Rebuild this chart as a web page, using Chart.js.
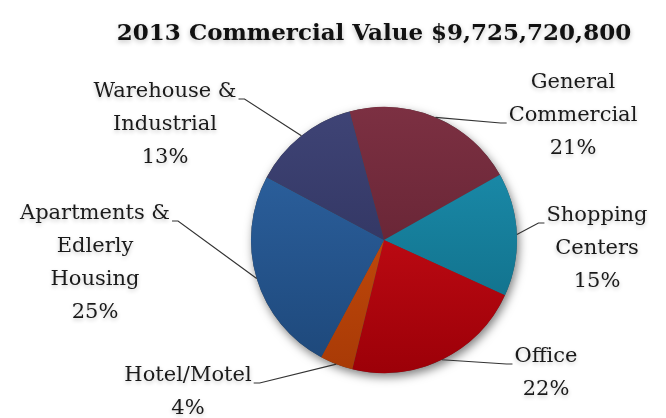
<!DOCTYPE html>
<html>
<head>
<meta charset="utf-8">
<script src="https://cdn.jsdelivr.net/npm/chart.js@4"></script>
<style>
  html, body { margin: 0; padding: 0; background: #fff; }
  #wrap { width: 666px; height: 418px; }
</style>
</head>
<body>
<div id="wrap"><canvas id="commercialPie" width="666" height="418"></canvas></div>
<script>
// data (share of 2013 commercial value, %)
var chartTitle = "2013 Commercial Value $9,725,720,800";
var categories = [
    ["General", "Commercial"],
    ["Shopping", "Centers"],
    ["Office"],
    ["Hotel/Motel"],
    ["Apartments &", "Edlerly", "Housing"],
    ["Warehouse &", "Industrial"]
];
var shares = [21, 15, 22, 4, 25, 13];

// styles
var topColors = ["#7c3042", "#1d93b3", "#d8121c", "#d4540f", "#2f66a6", "#3f4476"];
var bottomColors = ["#581d2c", "#0e6780", "#9c0008", "#a83a06", "#1d4779", "#292c55"];
// label block position relative to pie centre, and where the leader line meets the text
var labelLayout = [
    { dx: 189, dy: -157, line: 1, side: "left" },
    { dx: 213, dy: -24, line: 0, side: "left" },
    { dx: 162, dy: 117, line: 0, side: "left" },
    { dx: -196, dy: 136, line: 0, side: "right" },
    { dx: -289, dy: -26, line: 0, side: "right" },
    { dx: -219, dy: -148, line: 0, side: "right" }
];
var labelFont = "21px 'DejaVu Serif', serif";
var lineGap = 33;

var commercialChart = {
    cachDom: function() {
        this.$canvas = document.getElementById("commercialPie");
    },
    init: function() {
        this.cachDom();
        this.draw();
    },
    gradient: function(context) {
        var chart = context.chart;
        var area = chart.chartArea;
        var i = context.dataIndex;
        if (!area) { return topColors[i]; }
        var g = chart.ctx.createLinearGradient(0, area.top, 0, area.bottom);
        g.addColorStop(0, topColors[i]);
        g.addColorStop(1, bottomColors[i]);
        return g;
    },
    draw: function() {
        var titlePlugin = {
            id: "bigTitle",
            afterDraw: function(chart) {
                var ctx = chart.ctx;
                ctx.save();
                ctx.font = "bold 23px 'DejaVu Serif', serif";
                ctx.fillStyle = "#111";
                ctx.textAlign = "center";
                ctx.textBaseline = "alphabetic";
                ctx.shadowColor = "rgba(0,0,0,0.25)";
                ctx.shadowBlur = 5;
                ctx.shadowOffsetY = 2;
                ctx.fillText(chartTitle, 374, 40);
                ctx.restore();
            }
        };

        var shadowPlugin = {
            id: "pieShadow",
            beforeDatasetsDraw: function(chart) {
                var arc = chart.getDatasetMeta(0).data[0];
                if (!arc) { return; }
                var ctx = chart.ctx;
                ctx.save();
                ctx.shadowColor = "rgba(0,0,0,0.5)";
                ctx.shadowBlur = 10;
                ctx.shadowOffsetX = 2;
                ctx.shadowOffsetY = 4;
                ctx.fillStyle = "#444";
                ctx.beginPath();
                ctx.arc(arc.x, arc.y, arc.outerRadius, 0, Math.PI * 2);
                ctx.fill();
                ctx.restore();
            }
        };

        var labelPlugin = {
            id: "outsideLabels",
            afterDatasetsDraw: function(chart) {
                var ctx = chart.ctx;
                var arcs = chart.getDatasetMeta(0).data;
                ctx.save();
                ctx.font = labelFont;
                arcs.forEach(function(arc, i) {
                    var lay = labelLayout[i];
                    var lines = categories[i].concat([shares[i] + "%"]);
                    var mid = (arc.startAngle + arc.endAngle) / 2;
                    var ex = arc.x + Math.cos(mid) * arc.outerRadius;
                    var ey = arc.y + Math.sin(mid) * arc.outerRadius;
                    var tx = arc.x + lay.dx;
                    var ty = arc.y + lay.dy;

                    // leader line
                    var w = ctx.measureText(lines[lay.line]).width;
                    var ay = ty + lay.line * lineGap + 7;
                    var ax = lay.side == "left" ? tx - w / 2 - 2 : tx + w / 2 + 2;
                    var bx = lay.side == "left" ? ax - 6 : ax + 6;
                    ctx.strokeStyle = "#333";
                    ctx.lineWidth = 1.2;
                    ctx.beginPath();
                    ctx.moveTo(ax, ay);
                    ctx.lineTo(bx, ay);
                    ctx.lineTo(ex, ey);
                    ctx.stroke();

                    // text
                    ctx.fillStyle = "#1a1a1a";
                    ctx.textAlign = "center";
                    ctx.textBaseline = "middle";
                    ctx.shadowColor = "rgba(0,0,0,0.22)";
                    ctx.shadowBlur = 4;
                    ctx.shadowOffsetY = 2;
                    lines.forEach(function(t, k) {
                        ctx.fillText(t, tx, ty + k * lineGap);
                    });
                    ctx.shadowColor = "transparent";
                });
                ctx.restore();
            }
        };

        this.chart = new Chart(this.$canvas, {
            type: "pie",
            data: {
                labels: categories.map(function(c) { return c.join(" "); }),
                datasets: [{
                    data: shares,
                    backgroundColor: this.gradient,
                    borderWidth: 0
                }]
            },
            options: {
                responsive: false,
                animation: false,
                rotation: -15,
                layout: { padding: { top: 107, bottom: 45, left: 251, right: 149 } },
                plugins: {
                    legend: { display: false },
                    title: { display: false },
                    tooltip: { enabled: false }
                }
            },
            plugins: [shadowPlugin, labelPlugin, titlePlugin]
        });
    }
};
commercialChart.init();
</script>
</body>
</html>
